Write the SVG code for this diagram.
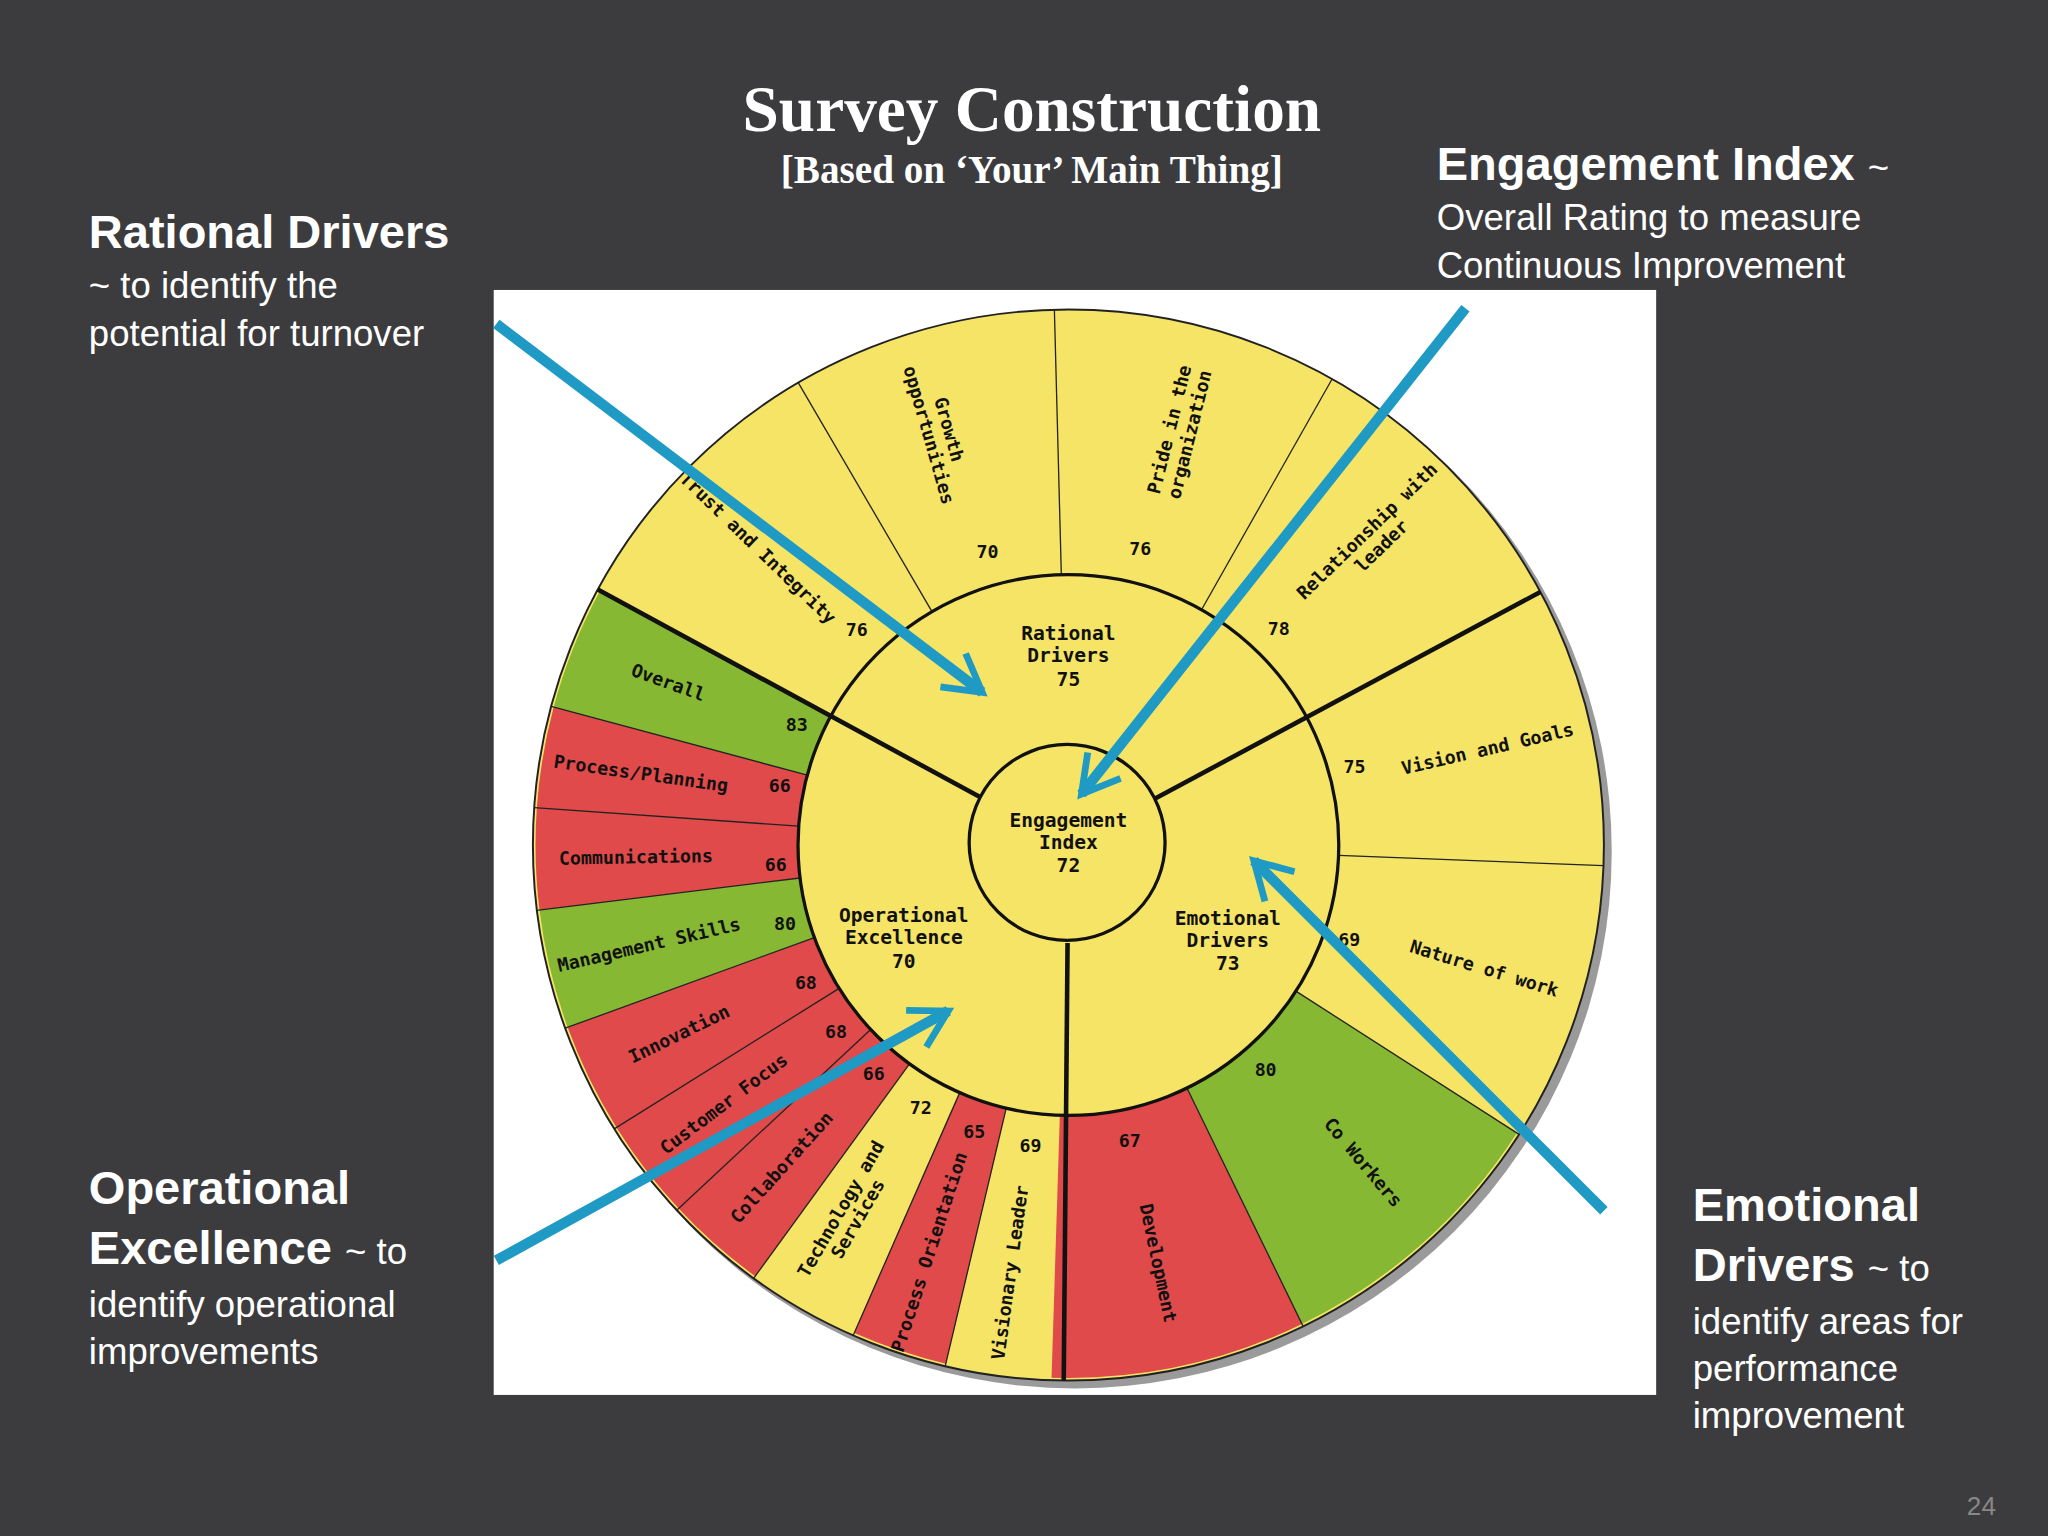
<svg xmlns="http://www.w3.org/2000/svg" width="2048" height="1536" viewBox="0 0 2048 1536">
<style>
.h{font-family:"Liberation Sans",Arial,sans-serif;fill:#fff}
.t{font-family:"DejaVu Sans Mono",monospace;font-weight:bold;font-size:14px;fill:#111;text-anchor:middle}
.c{font-family:"DejaVu Sans Mono",monospace;font-weight:bold;font-size:15px;fill:#111;text-anchor:middle}
.thin{stroke:#222;stroke-width:1}
.thick{stroke:#111;stroke-width:3.5}
.arr{stroke:#1e9ac4;stroke-width:8;fill:none}
</style>
<defs>
<marker id="ah" viewBox="0 0 10 10" refX="8" refY="5" markerWidth="5" markerHeight="5" orient="auto" markerUnits="strokeWidth">
<path d="M1,1 L8,5 L1,9" fill="none" stroke="#1e9ac4" stroke-width="1.3"/>
</marker>
</defs>
<rect width="2048" height="1536" fill="#3c3c3e"/>
<g transform="scale(1.30612)">
<g id="title">
<text x="790" y="100" font-family="Liberation Serif,serif" font-weight="bold" font-size="50" fill="#fff" text-anchor="middle">Survey Construction</text>
<text x="790" y="140" font-family="Liberation Serif,serif" font-weight="bold" font-size="30" fill="#fff" text-anchor="middle">[Based on ‘Your’ Main Thing]</text>
</g>
<g id="rational-caption" class="h">
<text x="68" y="190" font-size="36" font-weight="bold">Rational Drivers</text>
<text x="68" y="228" font-size="28">~ to identify the</text>
<text x="68" y="265" font-size="28">potential for turnover</text>
</g>
<g id="engagement-caption" class="h">
<text x="1100" y="138" font-size="36" font-weight="bold">Engagement Index <tspan font-weight="normal" font-size="28">~</tspan></text>
<text x="1100" y="176" font-size="28">Overall Rating to measure</text>
<text x="1100" y="213" font-size="28">Continuous Improvement</text>
</g>
<g id="operational-caption" class="h">
<text x="68" y="922" font-size="36" font-weight="bold">Operational</text>
<text x="68" y="968" font-size="36" font-weight="bold">Excellence <tspan font-weight="normal" font-size="28">~ to</tspan></text>
<text x="68" y="1008" font-size="28">identify operational</text>
<text x="68" y="1044" font-size="28">improvements</text>
</g>
<g id="emotional-caption" class="h">
<text x="1296" y="935" font-size="36" font-weight="bold">Emotional</text>
<text x="1296" y="981" font-size="36" font-weight="bold">Drivers <tspan font-weight="normal" font-size="28">~ to</tspan></text>
<text x="1296" y="1021" font-size="28">identify areas for</text>
<text x="1296" y="1057" font-size="28">performance</text>
<text x="1296" y="1093" font-size="28">improvement</text>
</g>
<text x="1517" y="1160" font-family="Liberation Sans,sans-serif" font-size="20" fill="#888" text-anchor="middle">24</text>

<g id="chart">
<rect x="378" y="222" width="890" height="846" fill="#fff"/>
<circle cx="823" cy="652" r="411" fill="#9a9a9a"/>
<circle cx="818" cy="647" r="410" fill="#f5e466" stroke="#222" stroke-width="1.5"/>
<g fill="none" stroke-width="408">
<circle cx="818" cy="647" r="204" stroke="#e04a4a" stroke-dasharray="39.2 2000" transform="rotate(184 818 647)"/>
<circle cx="818" cy="647" r="204" stroke="#e04a4a" stroke-dasharray="39.2 2000" transform="rotate(173 818 647)"/>
<circle cx="818" cy="647" r="204" stroke="#86b833" stroke-dasharray="46.3 2000" transform="rotate(160 818 647)"/>
<circle cx="818" cy="647" r="204" stroke="#e04a4a" stroke-dasharray="42.7 2000" transform="rotate(148 818 647)"/>
<circle cx="818" cy="647" r="204" stroke="#e04a4a" stroke-dasharray="39.2 2000" transform="rotate(137 818 647)"/>
<circle cx="818" cy="647" r="204" stroke="#e04a4a" stroke-dasharray="39.2 2000" transform="rotate(126 818 647)"/>
<circle cx="818" cy="647" r="204" stroke="#e04a4a" stroke-dasharray="37 2000" transform="rotate(103.3 818 647)"/>
<circle cx="818" cy="647" r="204" stroke="#e04a4a" stroke-dasharray="99 2000" transform="rotate(64 818 647)"/>
<circle cx="818" cy="647" r="204" stroke="#86b833" stroke-dasharray="111.4 2000" transform="rotate(32.7 818 647)"/>
<circle cx="818" cy="647" r="204" stroke="#86b833" stroke-dasharray="48 2000" transform="rotate(195 818 647)"/>
</g>
<g class="thin">
<line x1="1025" y1="647" x2="1228" y2="647" transform="rotate(239.7 818 647)"/>
<line x1="1025" y1="647" x2="1228" y2="647" transform="rotate(268.5 818 647)"/>
<line x1="1025" y1="647" x2="1228" y2="647" transform="rotate(299.5 818 647)"/>
<line x1="1025" y1="647" x2="1228" y2="647" transform="rotate(2.2 818 647)"/>
<line x1="1025" y1="647" x2="1228" y2="647" transform="rotate(32.7 818 647)"/>
<line x1="1025" y1="647" x2="1228" y2="647" transform="rotate(64 818 647)"/>
<line x1="1025" y1="647" x2="1228" y2="647" transform="rotate(103.3 818 647)"/>
<line x1="1025" y1="647" x2="1228" y2="647" transform="rotate(113.7 818 647)"/>
<line x1="1025" y1="647" x2="1228" y2="647" transform="rotate(126 818 647)"/>
<line x1="1025" y1="647" x2="1228" y2="647" transform="rotate(137 818 647)"/>
<line x1="1025" y1="647" x2="1228" y2="647" transform="rotate(148 818 647)"/>
<line x1="1025" y1="647" x2="1228" y2="647" transform="rotate(160 818 647)"/>
<line x1="1025" y1="647" x2="1228" y2="647" transform="rotate(173 818 647)"/>
<line x1="1025" y1="647" x2="1228" y2="647" transform="rotate(184 818 647)"/>
<line x1="1025" y1="647" x2="1228" y2="647" transform="rotate(195 818 647)"/>
</g>
<circle cx="818" cy="647" r="207" fill="#f5e466" stroke="#111" stroke-width="2.5"/>
<g class="thick">
<line x1="893" y1="647" x2="1228" y2="647" transform="rotate(208.5 818 647)"/>
<line x1="893" y1="647" x2="1228" y2="647" transform="rotate(331.8 818 647)"/>
<line x1="893" y1="647" x2="1228" y2="647" transform="rotate(90.5 818 647)"/>
</g>
<circle cx="817" cy="645" r="75" fill="#f5e466" stroke="#111" stroke-width="2.5"/>
</g>

<g id="centers">
<text class="c" x="818" y="490">Rational<tspan x="818" dy="17">Drivers</tspan><tspan x="818" dy="18">75</tspan></text>
<text class="c" x="818" y="633">Engagement<tspan x="818" dy="17">Index</tspan><tspan x="818" dy="18">72</tspan></text>
<text class="c" x="692" y="706">Operational<tspan x="692" dy="17">Excellence</tspan><tspan x="692" dy="18">70</tspan></text>
<text class="c" x="940" y="708">Emotional<tspan x="940" dy="17">Drivers</tspan><tspan x="940" dy="18">73</tspan></text>
</g>

<g id="labels">
<text class="t" transform="translate(510,527) rotate(20)">Overall</text>
<text class="t" transform="translate(577,423) rotate(44)">Trust and Integrity</text>
<text class="t" transform="translate(722,330) rotate(74)">Growth<tspan x="0" dy="16">opportunities</tspan></text>
<text class="t" transform="translate(900,330) rotate(-76)">Pride in the<tspan x="0" dy="16">organization</tspan></text>
<text class="t" transform="translate(1050,410) rotate(-44)">Relationship with<tspan x="0" dy="16">leader</tspan></text>
<text class="t" transform="translate(1140,578) rotate(-13)">Vision and Goals</text>
<text class="t" transform="translate(1135,746) rotate(17)">Nature of work</text>
<text class="t" transform="translate(1040,893) rotate(50)">Co Workers</text>
<text class="t" transform="translate(882,968) rotate(78)">Development</text>
<text class="t" transform="translate(778,975) rotate(-82)">Visionary Leader</text>
<text class="t" transform="translate(716,960) rotate(-72)">Process Orientation</text>
<text class="t" transform="translate(648,928) rotate(-60)">Technology and<tspan x="0" dy="15">Services</tspan></text>
<text class="t" transform="translate(602,897) rotate(-48)">Collaboration</text>
<text class="t" transform="translate(557,849) rotate(-37)">Customer Focus</text>
<text class="t" transform="translate(522,796) rotate(-26)">Innovation</text>
<text class="t" transform="translate(498,728) rotate(-13)">Management Skills</text>
<text class="t" transform="translate(487,661) rotate(-1)">Communications</text>
<text class="t" transform="translate(490,597) rotate(8)">Process/Planning</text>
</g>
<g id="scores" class="t">
<text x="610" y="560">83</text><text x="597" y="606">66</text><text x="594" y="667">66</text>
<text x="601" y="712">80</text><text x="617" y="757">68</text><text x="640" y="795">68</text>
<text x="669" y="827">66</text><text x="705" y="853">72</text><text x="746" y="871">65</text>
<text x="789" y="882">69</text><text x="865" y="878">67</text><text x="969" y="824">80</text>
<text x="1033" y="724">69</text><text x="1037" y="592">75</text><text x="979" y="486">78</text>
<text x="873" y="425">76</text><text x="756" y="427">70</text><text x="656" y="487">76</text>
</g>

<g id="connectors">
<line class="arr" x1="380" y1="248" x2="752" y2="530" marker-end="url(#ah)"/>
<line class="arr" x1="1122" y1="236" x2="828" y2="608" marker-end="url(#ah)"/>
<line class="arr" x1="380" y1="965" x2="726" y2="774" marker-end="url(#ah)"/>
<line class="arr" x1="1228" y1="927" x2="960" y2="659" marker-end="url(#ah)"/>
</g>
</g>
</svg>
